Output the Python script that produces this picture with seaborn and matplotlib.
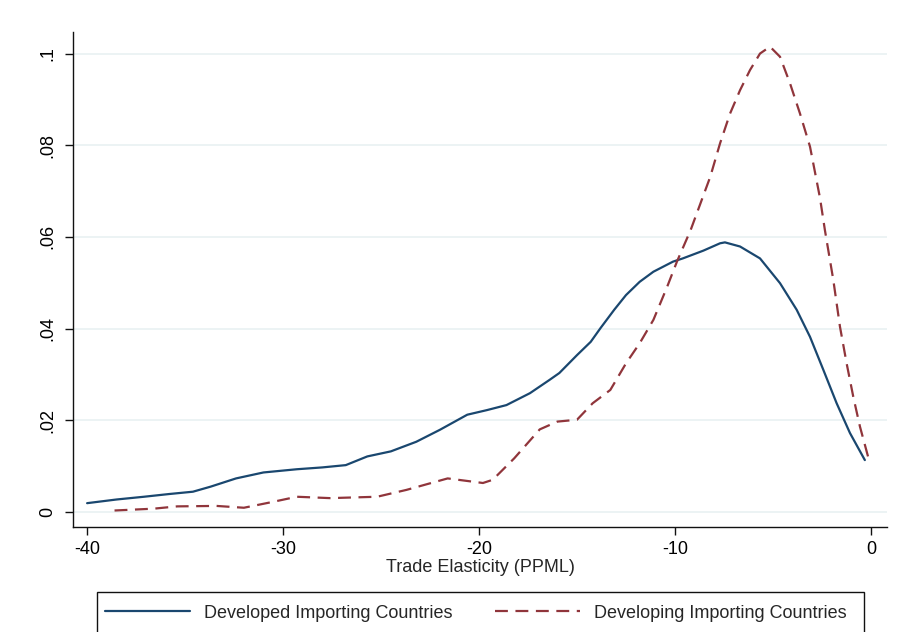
import matplotlib
matplotlib.use("Agg")
import matplotlib.pyplot as plt
import matplotlib.patches as mpatches
import seaborn as sns
import pandas as pd

# Kernel density estimates of the PPML trade elasticity
dev_x = [-40.0, -38.5, -37.1, -35.8, -34.6, -33.7, -32.4, -31.0, -29.3, -28.0,
         -26.8, -25.7, -24.5, -23.2, -22.0, -20.6, -19.6, -18.6, -17.4, -16.4,
         -15.9, -15.0, -14.3, -13.8, -13.1, -12.5, -11.8, -11.1, -10.1, -9.6,
         -8.55, -7.7, -7.45, -6.68, -5.66, -4.64, -3.79, -3.11, -2.43, -1.75,
         -1.07, -0.31]
dev_y = [0.0019, 0.0027, 0.0033, 0.0039, 0.0044, 0.0055, 0.0073, 0.0086, 0.0093, 0.0097,
         0.0102, 0.0121, 0.0132, 0.0153, 0.0179, 0.0212, 0.0222, 0.0233, 0.0259, 0.0288,
         0.0303, 0.0342, 0.0371, 0.0401, 0.0441, 0.0473, 0.0502, 0.0524, 0.0546, 0.0553,
         0.0570, 0.0586, 0.0588, 0.0579, 0.0553, 0.0499, 0.0441, 0.0382, 0.0310, 0.0237,
         0.0172, 0.0113]

devg_x = [-38.6, -36.6, -35.4, -33.4, -32.0, -30.5, -29.3, -27.6, -25.2, -23.7,
          -21.6, -19.8, -19.3, -18.2, -16.9, -16.0, -15.0, -14.2, -13.3, -12.5,
          -11.8, -11.1, -10.4, -9.9, -9.2, -8.2, -7.7, -7.19, -6.68, -6.17,
          -5.66, -5.15, -4.64, -4.13, -3.62, -3.11, -2.6, -2.35, -1.92, -1.58,
          -1.24, -0.9, -0.56, -0.08]
devg_y = [0.0003, 0.0007, 0.0012, 0.0013, 0.0009, 0.0022, 0.0033, 0.0030, 0.0033, 0.0048,
          0.0073, 0.0063, 0.0070, 0.0117, 0.0180, 0.0197, 0.0201, 0.0237, 0.0266, 0.0324,
          0.0368, 0.0419, 0.0491, 0.0546, 0.0615, 0.0731, 0.0804, 0.0869, 0.0920, 0.0964,
          0.1000, 0.1015, 0.0993, 0.0935, 0.0869, 0.0797, 0.0685, 0.0615, 0.0506, 0.0404,
          0.0324, 0.0251, 0.0186, 0.0110]

x_ticks = [-40, -30, -20, -10, 0]
y_ticks = [0, 0.02, 0.04, 0.06, 0.08, 0.1]
y_tick_labels = ["0", ".02", ".04", ".06", ".08", ".1"]
series_labels = ["Developed Importing Countries", "Developing Importing Countries"]

sns.set_style("white")
plt.rcParams["font.family"] = ["Liberation Sans", "DejaVu Sans"]

navy = "#1a476f"
maroon = "#90353b"
grid_col = "#eaf2f3"

fig = plt.figure(figsize=(9.02, 6.32), dpi=100)
fig.patch.set_facecolor("white")
ax = fig.add_axes([73 / 902, 1 - 527 / 632, (887 - 73) / 902, (527 - 32) / 632])

df_dev = pd.DataFrame({"x": dev_x, "y": dev_y})
df_devg = pd.DataFrame({"x": devg_x, "y": devg_y})

for yt in y_ticks:
    ax.axhline(yt, color=grid_col, lw=1.3, zorder=0)

sns.lineplot(data=df_dev, x="x", y="y", ax=ax, color=navy, lw=1.6,
             label=series_labels[0], sort=False)
sns.lineplot(data=df_devg, x="x", y="y", ax=ax, color=maroon, lw=1.6,
             label=series_labels[1], sort=False, dashes=False)
ax.lines[-1].set_dashes((5.8, 3.4))

ax.set_xlim(-40.72, 0.82)
ax.set_ylim(-0.0033, 0.1047)
ax.set_xticks(x_ticks)
ax.set_xticklabels([str(t) for t in x_ticks])
ax.set_yticks(y_ticks)
ax.set_yticklabels(y_tick_labels, rotation=90, va="center")

for side in ["top", "right"]:
    ax.spines[side].set_visible(False)
for side in ["left", "bottom"]:
    ax.spines[side].set_color("#111111")
    ax.spines[side].set_linewidth(1.0)

ax.tick_params(axis="both", direction="out", length=6, width=1.0, color="#111111",
               labelsize=13, labelcolor="black")
ax.tick_params(axis="x", pad=4, bottom=True)
ax.tick_params(axis="y", pad=6, left=True)

ax.set_xlabel("Trade Elasticity (PPML)", fontsize=13, labelpad=1)
ax.set_ylabel("")

# Legend row below the plot, inside its own rectangular frame
handles, labels = ax.get_legend_handles_labels()
ax.get_legend().remove()
fig.legend(handles, labels, loc="center left", ncol=2,
           bbox_to_anchor=(105 / 902, 1 - 613 / 632),
           bbox_transform=fig.transFigure, fontsize=13, frameon=False,
           handlelength=4.7, handletextpad=0.78, borderpad=0,
           columnspacing=2.38, borderaxespad=0)
fig.add_artist(mpatches.Rectangle((97 / 902, -0.05), (864 - 97) / 902,
                                  (1 - 592 / 632) + 0.05, transform=fig.transFigure,
                                  fill=False, edgecolor="#111111", lw=1.0))

fig.savefig("out.png", dpi=100, facecolor="white")
